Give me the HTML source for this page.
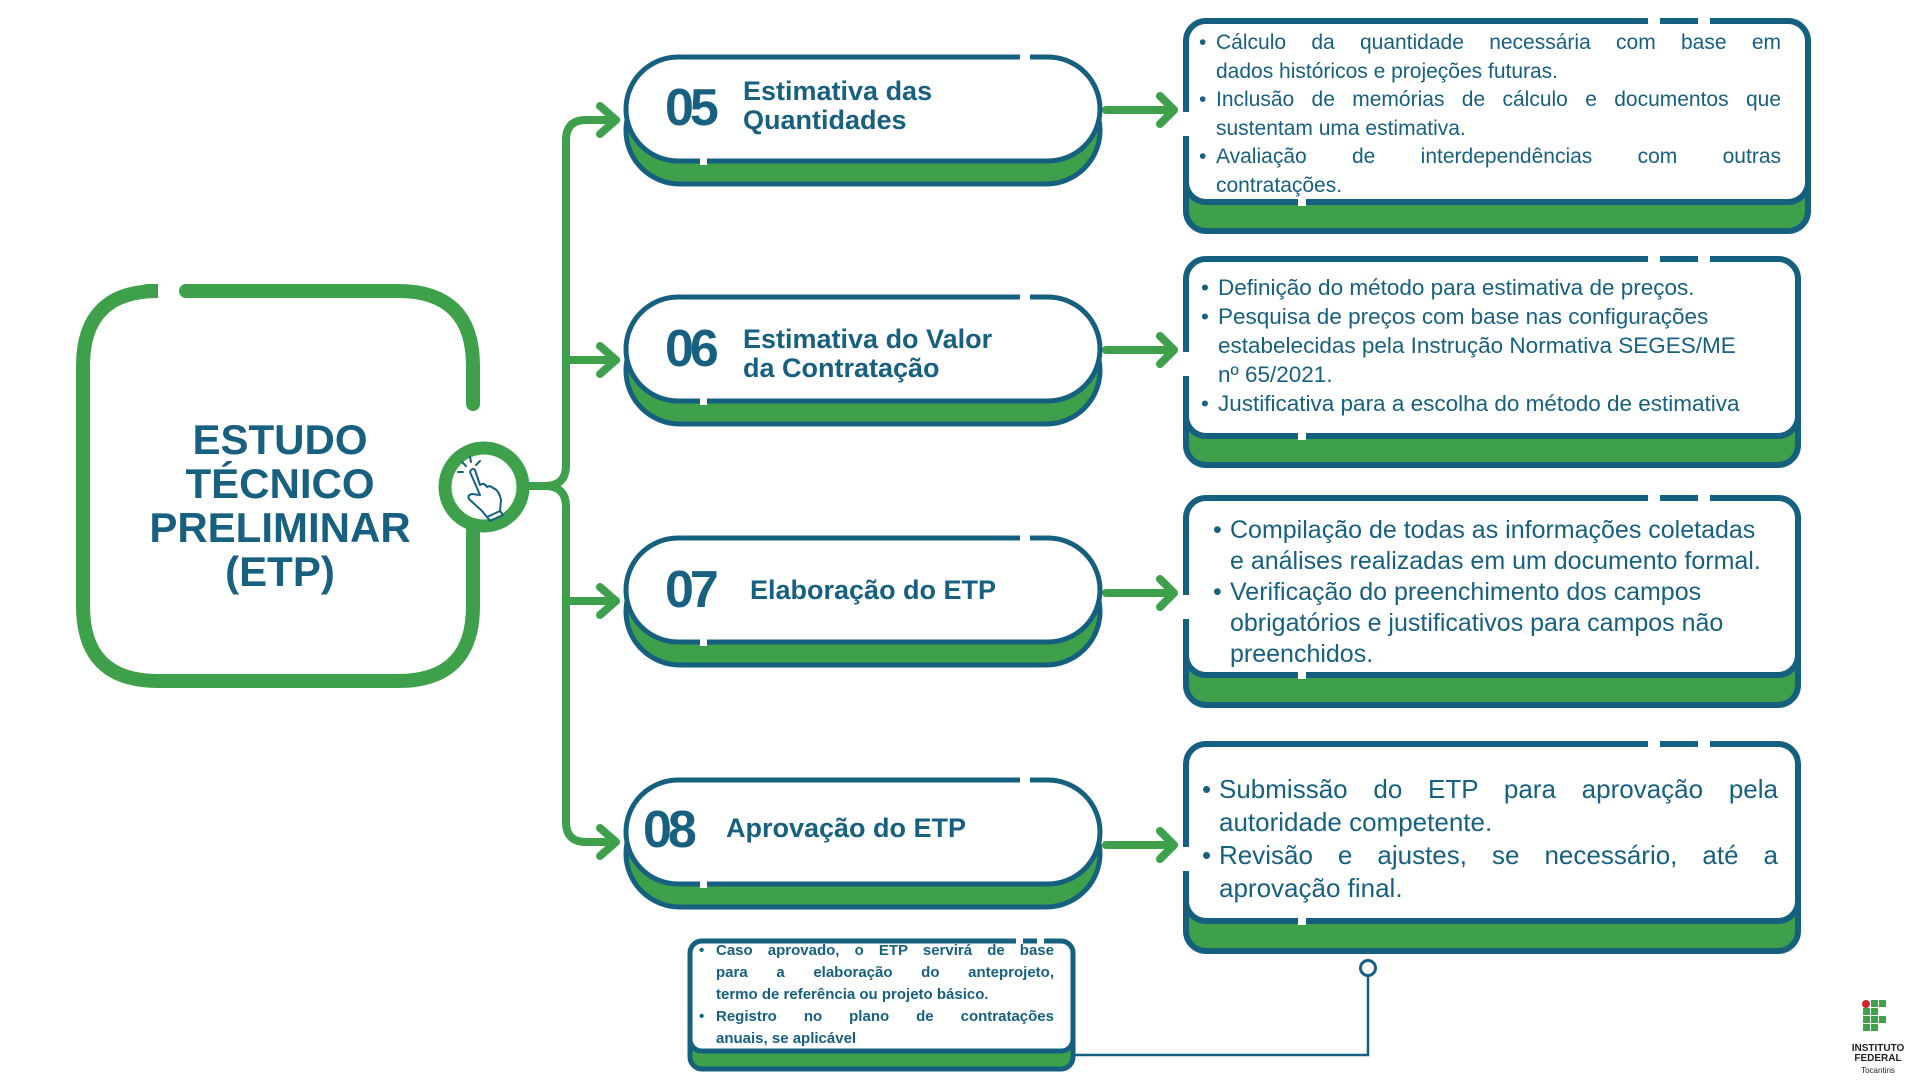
<!DOCTYPE html>
<html><head><meta charset="utf-8"><style>
html,body{margin:0;padding:0;background:#fff;}
body{width:1920px;height:1080px;position:relative;overflow:hidden;font-family:"Liberation Sans",sans-serif;color:#17607f;}
svg{position:absolute;left:0;top:0;}
.t{position:absolute;white-space:nowrap;}
.ln{white-space:nowrap;position:relative;}
.j{text-align:justify;text-align-last:justify;}
.b::before{content:"•";position:absolute;left:-17px;}
</style></head><body>
<svg width="1920" height="1080" viewBox="0 0 1920 1080">
<defs>
<radialGradient id="gl" cx="50%" cy="50%" r="50%"><stop offset="75%" stop-color="#fff"/><stop offset="100%" stop-color="#cfe6d2"/></radialGradient>
</defs>
<g fill="none" stroke="#3fa04b" stroke-width="14" stroke-linecap="round">
<path d="M147 291 H158 Q83 291 83 366 V606 Q83 681 158 681 H398 Q473 681 473 606 V530"/>
<path d="M186 291 H398 Q473 291 473 366 V404"/>
</g>
<g fill="none" stroke="#3fa04b" stroke-width="8" stroke-linecap="round" stroke-linejoin="round">
<path d="M528 486 H545 Q566 486 566 465 V140 Q566 120 586 120 H616"/>
<path d="M545 486 Q566 486 566 507 V822 Q566 842 586 842 H616"/>
<path d="M566 360 H616"/><path d="M566 601 H616"/>
<path d="M600 106 L616 120 L600 134"/><path d="M600 346 L616 360 L600 374"/>
<path d="M600 587 L616 601 L600 615"/><path d="M600 828 L616 842 L600 856"/>
<path d="M1106 110 H1174 M1160 96 L1174 110 L1160 124"/>
<path d="M1106 350 H1174 M1160 336 L1174 350 L1160 364"/>
<path d="M1106 593 H1174 M1160 579 L1174 593 L1160 607"/>
<path d="M1106 845 H1174 M1160 831 L1174 845 L1160 859"/>
</g>
<circle cx="484" cy="487" r="39" fill="url(#gl)" stroke="#3fa04b" stroke-width="13"/>
<g fill="none" stroke="#17607f" stroke-width="2" stroke-linecap="round" stroke-linejoin="round">
<path d="M470 472 L480 495 L472 494 Q467 495 469 499 L482 511 L487 517 L500 511 L501 500 Q499 490 493 488 Q490 485 487 487 Q484 482 480 485 L475 470 Q472 467 470 472 Z"/>
<path d="M487 517 L490 521 L503 515 L500 511"/>
<path d="M466 466 L462 462 M471 462 L470 457 M476 465 L480 461 M463 472 L458 472"/>
</g>
<g stroke="#16607f" stroke-width="5">
<rect x="626" y="77" width="474" height="107" rx="54" fill="#3fa04b"/>
<rect x="626" y="57" width="474" height="104" rx="52" fill="#fff"/>
<rect x="626" y="317" width="474" height="107" rx="54" fill="#3fa04b"/>
<rect x="626" y="297" width="474" height="104" rx="52" fill="#fff"/>
<rect x="626" y="558" width="474" height="107" rx="54" fill="#3fa04b"/>
<rect x="626" y="538" width="474" height="104" rx="52" fill="#fff"/>
<rect x="626" y="800" width="474" height="107" rx="54" fill="#3fa04b"/>
<rect x="626" y="780" width="474" height="104" rx="52" fill="#fff"/>
</g>
<g fill="#fff">
<rect x="1020" y="52" width="10" height="10"/><rect x="700" y="157" width="7" height="8"/>
<rect x="1020" y="292" width="10" height="10"/><rect x="700" y="397" width="7" height="8"/>
<rect x="1020" y="533" width="10" height="10"/><rect x="700" y="638" width="7" height="8"/>
<rect x="1020" y="775" width="10" height="10"/><rect x="700" y="880" width="7" height="8"/>
</g>
<g stroke="#16607f" stroke-width="6">
<rect x="1186" y="40" width="622" height="191" rx="20" fill="#3fa04b"/>
<rect x="1186" y="21" width="622" height="181" rx="20" fill="#fff"/>
<rect x="1186" y="278" width="612" height="187" rx="20" fill="#3fa04b"/>
<rect x="1186" y="259" width="612" height="177" rx="20" fill="#fff"/>
<rect x="1186" y="517" width="612" height="188" rx="20" fill="#3fa04b"/>
<rect x="1186" y="498" width="612" height="177" rx="20" fill="#fff"/>
<rect x="1186" y="763" width="612" height="188" rx="20" fill="#3fa04b"/>
<rect x="1186" y="744" width="612" height="177" rx="20" fill="#fff"/>
</g>
<g stroke="#16607f" stroke-width="5">
<rect x="690" y="956" width="383" height="113" rx="12" fill="#3fa04b"/>
<rect x="690" y="941" width="383" height="110" rx="12" fill="#fff"/>
</g>
<g fill="#fff">
<rect x="1648" y="14" width="12" height="12"/><rect x="1698" y="14" width="12" height="12"/>
<rect x="1648" y="252" width="12" height="12"/><rect x="1698" y="252" width="12" height="12"/>
<rect x="1648" y="491" width="12" height="12"/><rect x="1698" y="491" width="12" height="12"/>
<rect x="1648" y="737" width="12" height="12"/><rect x="1698" y="737" width="12" height="12"/>
<rect x="1298" y="197" width="8" height="9"/><rect x="1298" y="431" width="8" height="9"/>
<rect x="1298" y="670" width="8" height="9"/><rect x="1298" y="916" width="8" height="9"/>
<rect x="1180" y="112" width="12" height="24"/><rect x="1180" y="352" width="12" height="24"/>
<rect x="1180" y="595" width="12" height="24"/><rect x="1180" y="847" width="12" height="24"/>
<rect x="1016" y="936" width="7" height="10"/><rect x="1037" y="936" width="7" height="10"/>
</g>
<path d="M1075 1055 H1368 V975" fill="none" stroke="#16607f" stroke-width="2.5"/>
<circle cx="1368" cy="968" r="7.5" fill="#fff" stroke="#16607f" stroke-width="3"/>
<circle cx="1866" cy="1004" r="4" fill="#d2232a"/>
<g fill="#3fa04b">
<rect x="1871" y="1000" width="7" height="7"/><rect x="1879" y="1000" width="7" height="7"/>
<rect x="1863" y="1008" width="7" height="7"/><rect x="1871" y="1008" width="7" height="7"/>
<rect x="1863" y="1016" width="7" height="7"/><rect x="1871" y="1016" width="7" height="7"/><rect x="1879" y="1016" width="7" height="7"/>
<rect x="1863" y="1024" width="7" height="7"/><rect x="1871" y="1024" width="7" height="7"/>
</g>
<g font-family="Liberation Sans,sans-serif" text-anchor="middle" fill="#222">
<text x="1878" y="1051" font-size="10" font-weight="bold">INSTITUTO</text>
<text x="1878" y="1061" font-size="10" font-weight="bold">FEDERAL</text>
<text x="1878" y="1073" font-size="8">Tocantins</text>
</g>
</svg>

<div class="t" style="left:80px;top:418px;width:400px;text-align:center;font-weight:bold;font-size:42px;line-height:44px;">ESTUDO<br>TÉCNICO<br>PRELIMINAR<br>(ETP)</div>

<div class="t" style="left:665px;top:78px;font-size:52px;font-weight:bold;letter-spacing:-4px;line-height:60px;">05</div>
<div class="t" style="left:743px;top:77px;font-size:27px;font-weight:bold;line-height:29px;">Estimativa das<br>Quantidades</div>
<div class="t" style="left:665px;top:319px;font-size:52px;font-weight:bold;letter-spacing:-4px;line-height:60px;">06</div>
<div class="t" style="left:743px;top:325px;font-size:27px;font-weight:bold;line-height:29px;">Estimativa do Valor<br>da Contratação</div>
<div class="t" style="left:665px;top:560px;font-size:52px;font-weight:bold;letter-spacing:-4px;line-height:60px;">07</div>
<div class="t" style="left:750px;top:574px;font-size:27px;font-weight:bold;line-height:32px;">Elaboração do ETP</div>
<div class="t" style="left:643px;top:800px;font-size:52px;font-weight:bold;letter-spacing:-4px;line-height:60px;">08</div>
<div class="t" style="left:726px;top:812px;font-size:27px;font-weight:bold;line-height:32px;">Aprovação do ETP</div>

<div class="t" style="left:1216px;top:29px;width:565px;font-size:21px;line-height:28.5px;">
<div class="ln j b">Cálculo da quantidade necessária com base em</div>
<div class="ln">dados históricos e projeções futuras.</div>
<div class="ln j b">Inclusão de memórias de cálculo e documentos que</div>
<div class="ln">sustentam uma estimativa.</div>
<div class="ln j b">Avaliação de interdependências com outras</div>
<div class="ln">contratações.</div>
</div>
<div class="t" style="left:1218px;top:273px;width:580px;font-size:22.5px;line-height:29px;">
<div class="ln b">Definição do método para estimativa de preços.</div>
<div class="ln b">Pesquisa de preços com base nas configurações</div>
<div class="ln">estabelecidas pela Instrução Normativa SEGES/ME</div>
<div class="ln">nº 65/2021.</div>
<div class="ln b">Justificativa para a escolha do método de estimativa</div>
</div>
<div class="t" style="left:1230px;top:515px;width:560px;font-size:25px;line-height:31px;">
<div class="ln b">Compilação de todas as informações coletadas</div>
<div class="ln">e análises realizadas em um documento formal.</div>
<div class="ln b">Verificação do preenchimento dos campos</div>
<div class="ln">obrigatórios e justificativos para campos não</div>
<div class="ln">preenchidos.</div>
</div>
<div class="t" style="left:1219px;top:773px;width:559px;font-size:26px;line-height:33px;">
<div class="ln j b">Submissão do ETP para aprovação pela</div>
<div class="ln">autoridade competente.</div>
<div class="ln j b">Revisão e ajustes, se necessário, até a</div>
<div class="ln">aprovação final.</div>
</div>
<div class="t" style="left:716px;top:940px;width:338px;font-size:15px;font-weight:bold;line-height:22px;">
<div class="ln j b">Caso aprovado, o ETP servirá de base</div>
<div class="ln j">para a elaboração do anteprojeto,</div>
<div class="ln">termo de referência ou projeto básico.</div>
<div class="ln j b">Registro no plano de contratações</div>
<div class="ln">anuais, se aplicável</div>
</div>
</body></html>
